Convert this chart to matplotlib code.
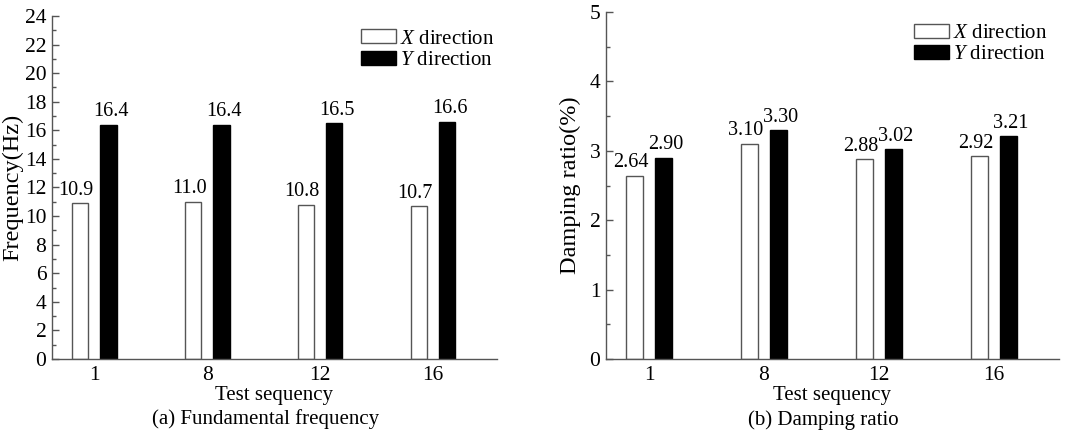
import numpy as np
import matplotlib
matplotlib.use('Agg')
import matplotlib.pyplot as plt
from matplotlib.ticker import MultipleLocator

plt.rcParams['font.family'] = ['Liberation Serif', 'DejaVu Serif']
plt.rcParams['mathtext.fontset'] = 'custom'
plt.rcParams['mathtext.it'] = 'Liberation Serif:italic'
plt.rcParams['mathtext.rm'] = 'Liberation Serif'
plt.rcParams['font.size'] = 15

tests = ['1', '8', '12', '16']
freq_x = [10.9, 11.0, 10.8, 10.7]
freq_y = [16.4, 16.4, 16.5, 16.6]
damp_x = [2.64, 3.10, 2.88, 2.92]
damp_y = [2.90, 3.30, 3.02, 3.21]

fig = plt.figure(figsize=(10.8, 4.37), dpi=100)
ax1 = fig.add_axes([0.0481, 0.1785, 0.412, 0.785])
ax2 = fig.add_axes([0.5611, 0.1785, 0.4194, 0.794])

def draw(ax, xs, ys, fmt, ymax, major, minor, ylabel, caption, leg_anchor, ylpad):
    pos = np.arange(len(tests))
    w = 0.145
    off = 0.125
    ax.bar(pos - off, xs, w, color='white', edgecolor='#555555', linewidth=1.0, label='$\\mathit{X}$ direction')
    ax.bar(pos + off, ys, w, color='black', edgecolor='black', linewidth=1.0, label='$\\mathit{Y}$ direction')
    for p, v in zip(pos, xs):
        ax.text(p - off - 0.035, v + ymax * 0.01, fmt.format(v), ha='center', va='bottom', fontsize=14.5)
    for p, v in zip(pos, ys):
        ax.text(p + off + 0.02, v + ymax * 0.01, fmt.format(v), ha='center', va='bottom', fontsize=14.5)
    ax.set_xlim(-0.375, 3.565)
    ax.set_ylim(0, ymax)
    ax.set_xticks(pos)
    ax.set_xticklabels(tests, fontsize=15.5)
    ax.tick_params(axis='x', length=0, pad=5)
    ax.yaxis.set_major_locator(MultipleLocator(major))
    ax.yaxis.set_minor_locator(MultipleLocator(minor))
    ax.tick_params(axis='y', which='major', direction='in', length=5, width=1, color='#555555', pad=4,
                   labelsize=15.5)
    ax.tick_params(axis='y', which='minor', direction='in', length=3, width=1, color='#555555')
    for s in ['top', 'right']:
        ax.spines[s].set_visible(False)
    for s in ['left', 'bottom']:
        ax.spines[s].set_color('#555555')
        ax.spines[s].set_linewidth(1.0)
    ax.set_ylabel(ylabel, labelpad=ylpad, fontsize=17.5)
    ax.set_xlabel('Test sequency', labelpad=1, fontsize=15)
    ax.text(0.48, -0.176, caption, transform=ax.transAxes, ha='center', va='center', fontsize=15)
    ax.legend(loc='upper right', bbox_to_anchor=leg_anchor, frameon=False, handlelength=1.65,
              handleheight=0.65, handletextpad=0.2, labelspacing=0.1, borderaxespad=0, fontsize=15)

draw(ax1, freq_x, freq_y, '{:.1f}', 24, 2, 1, 'Frequency(Hz)', '(a) Fundamental frequency',
     (1.013, 0.985), 1)
draw(ax2, damp_x, damp_y, '{:.2f}', 5, 1, 0.5, 'Damping ratio(%)', '(b) Damping ratio',
     (0.993, 0.99), 6)

fig.savefig('out.png', dpi=100)
